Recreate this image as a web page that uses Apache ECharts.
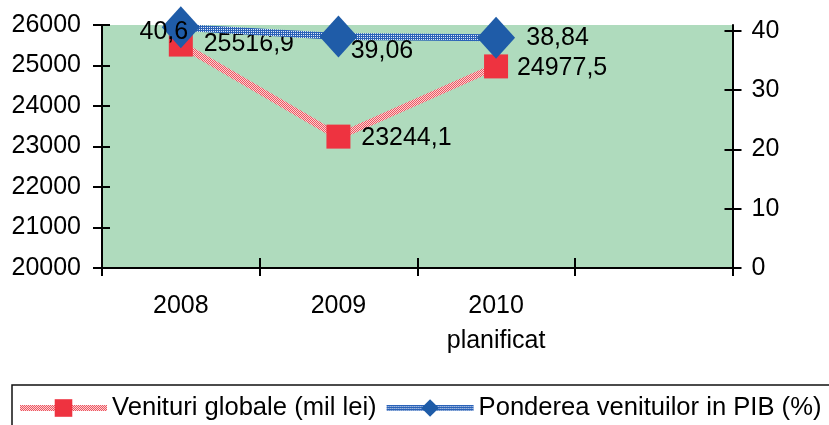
<!DOCTYPE html>
<html>
<head>
<meta charset="utf-8">
<script src="https://cdn.jsdelivr.net/npm/echarts@6/dist/echarts.min.js"></script>
<style>
  html, body { margin: 0; padding: 0; background: #fff; }
  #chart { width: 829px; height: 425px; }
</style>
</head>
<body>
<div id="chart"></div>
<script>
// ---- data ----
const categories = ['2008', '2009', '2010\nplanificat', ''];
const venituri = [25516.9, 23244.1, 24977.5];
const pondere = [40.6, 39.06, 38.84];
const leftAxisMin = 20000, leftAxisMax = 26000, leftAxisStep = 1000;
const rightTicks = [0, 10, 20, 30, 40];
const rightAxisMax = 41;
const seriesNames = ['Venituri globale (mil lei)', 'Ponderea venituilor in PIB (%)'];

// ---- styling helpers ----
const redLabelOffsets = [[68, 0], [68, 1], [66, 1.5]];
const blueLabelOffsets = [[-17, 5], [43.5, 15], [61.5, 0.5]];
const FONT = "'Liberation Sans', Arial, sans-serif";

function makePattern(c1, c2, c3, c4) {
  const cv = document.createElement('canvas');
  cv.width = 2; cv.height = 2;
  const ctx = cv.getContext('2d');
  ctx.fillStyle = c1; ctx.fillRect(0, 0, 1, 1);
  ctx.fillStyle = c2; ctx.fillRect(1, 0, 1, 1);
  ctx.fillStyle = c3; ctx.fillRect(0, 1, 1, 1);
  ctx.fillStyle = c4; ctx.fillRect(1, 1, 1, 1);
  return { image: cv, repeat: 'repeat' };
}
const redPattern = makePattern('#EE5560', '#FBD0D3', '#FBD0D3', '#EE5560');
const bluePattern = makePattern('#2A62B8', '#2A62B8', '#2A62B8', '#E0E8F5');

const fmt = v => String(v).replace('.', ',');

const chart = echarts.init(document.getElementById('chart'), null, { renderer: 'canvas' });

const xBase = {
  type: 'category',
  data: categories,
  boundaryGap: true,
  position: 'bottom'
};

const option = {
  animation: false,
  backgroundColor: '#ffffff',
  textStyle: { fontFamily: FONT },
  grid: {
    left: 102, right: 96.5, top: 25, bottom: 157,
    show: true, backgroundColor: '#AFDBBD', borderWidth: 0
  },
  legend: {
    left: 12, top: 385, width: 1200,
    orient: 'horizontal',
    padding: [10, 10, 12, 5],
    borderColor: '#111', borderWidth: 1.5,
    itemWidth: 87, itemHeight: 22, itemGap: 7,
    lineStyle: { width: 6 },
    textStyle: { fontSize: 25.6, color: '#000', fontFamily: FONT },
    data: seriesNames
  },
  xAxis: [
    Object.assign({}, xBase, {
      axisLine: { show: true, lineStyle: { color: '#000', width: 2 } },
      axisTick: { show: true, length: 8, inside: false, lineStyle: { color: '#000', width: 2 } },
      axisLabel: { color: '#000', fontSize: 25, fontFamily: FONT, margin: 21, lineHeight: 35, interval: 0 },
      splitLine: { show: false }
    }),
    Object.assign({}, xBase, {
      axisLine: { show: false },
      axisTick: { show: true, length: 10, inside: true, lineStyle: { color: '#000', width: 2 } },
      axisLabel: { show: false },
      splitLine: { show: false }
    })
  ],
  yAxis: [
    {
      type: 'value', position: 'left',
      min: leftAxisMin, max: leftAxisMax, interval: leftAxisStep,
      axisLine: { show: true, lineStyle: { color: '#000', width: 2 } },
      axisTick: { show: true, length: 9, lineStyle: { color: '#000', width: 2 } },
      axisLabel: { color: '#000', fontSize: 25, fontFamily: FONT, margin: 21, formatter: v => String(v) },
      splitLine: { show: false }
    },
    {
      type: 'value', position: 'right',
      min: 0, max: rightAxisMax, interval: 10,
      axisLine: { show: true, lineStyle: { color: '#000', width: 2 } },
      axisTick: { show: true, length: 9, customValues: rightTicks, lineStyle: { color: '#000', width: 2 } },
      axisLabel: { color: '#000', fontSize: 25, fontFamily: FONT, margin: 19, customValues: rightTicks, formatter: v => String(v) },
      splitLine: { show: false }
    },
    {
      type: 'value', position: 'left',
      min: leftAxisMin, max: leftAxisMax, interval: leftAxisStep,
      axisLine: { show: false },
      axisTick: { show: true, inside: true, length: 8, lineStyle: { color: '#000', width: 2 } },
      axisLabel: { show: false },
      splitLine: { show: false }
    },
    {
      type: 'value', position: 'right',
      min: 0, max: rightAxisMax, interval: 10,
      axisLine: { show: false },
      axisTick: { show: true, inside: true, length: 8, customValues: rightTicks, lineStyle: { color: '#000', width: 2 } },
      axisLabel: { show: false },
      splitLine: { show: false }
    }
  ],
  series: [
    {
      name: seriesNames[0],
      type: 'line',
      xAxisIndex: 0, yAxisIndex: 0,
      z: 2,
      symbol: 'rect', symbolSize: 24,
      lineStyle: { color: redPattern, width: 7 },
      itemStyle: { color: '#EE3340', borderWidth: 0 },
      label: {
        show: true, position: 'inside', color: '#000', fontSize: 25, fontFamily: FONT,
        formatter: p => fmt(p.value)
      },
      data: venituri.map((v, i) => ({ value: v, label: { offset: redLabelOffsets[i] } }))
    },
    {
      name: seriesNames[1],
      type: 'line',
      xAxisIndex: 0, yAxisIndex: 1,
      z: 3,
      symbol: 'diamond', symbolSize: [38, 42],
      lineStyle: { color: bluePattern, width: 7 },
      itemStyle: { color: '#1F5CA8', borderWidth: 0 },
      label: {
        show: true, position: 'inside', color: '#000', fontSize: 25, fontFamily: FONT,
        formatter: p => fmt(p.value)
      },
      data: pondere.map((v, i) => ({ value: v, label: { offset: blueLabelOffsets[i] } }))
    }
  ]
};

chart.setOption(option);
</script>
</body>
</html>
